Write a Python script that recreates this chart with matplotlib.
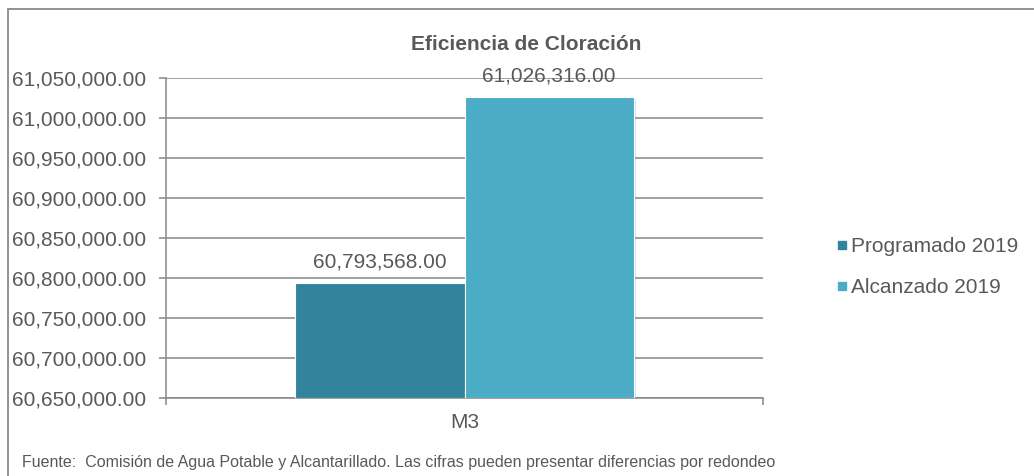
import matplotlib
matplotlib.use("Agg")
import matplotlib.pyplot as plt
from matplotlib.lines import Line2D
from matplotlib.patches import Rectangle
from matplotlib import patheffects as pe
from matplotlib import font_manager as fm
import numpy as np

categories = ["M3"]
series_names = ["Programado 2019", "Alcanzado 2019"]
values = [60793568.00, 61026316.00]
colors = ["#31849B", "#4BACC6"]
y_ticks = [60650000, 60700000, 60750000, 60800000, 60850000,
           60900000, 60950000, 61000000, 61050000]
title = "Eficiencia de Cloración"
footer = "Fuente:  Comisión de Agua Potable y Alcantarillado. Las cifras pueden presentar diferencias por redondeo"

names = {f.name for f in fm.fontManager.ttflist}
narrow = "Liberation Sans Narrow" if "Liberation Sans Narrow" in names else "Liberation Sans"
plt.rcParams['font.family'] = ['Liberation Sans', 'DejaVu Sans']

W, H = 1034, 476
fig = plt.figure(figsize=(W / 100, H / 100), dpi=100)
fig.patch.set_facecolor("white")

# outer border (top and left visible, extends past right/bottom)
fig.patches.append(Rectangle((8 / W, -0.05), 1.1, (H - 9) / H + 0.05, transform=fig.transFigure,
                             fill=False, edgecolor="#7f7f7f", linewidth=1.2))

ax = fig.add_axes([166 / W, 1 - 398 / H, (763 - 166) / W, (398 - 78) / H])
grey = "#868686"
txt = "#595959"

bw = 0.2834
offsets = [-bw / 2, bw / 2]
for i, (name, v, c) in enumerate(zip(series_names, values, colors)):
    bars = ax.bar(offsets[i], v - y_ticks[0], bottom=y_ticks[0], width=bw, color=c,
                  edgecolor="white", linewidth=0.8, zorder=3, label=name)
    for b in bars:
        b.set_path_effects([pe.SimplePatchShadow(offset=(1.5, -1.5), alpha=0.25, rho=0.9), pe.Normal()])
    ax.text(offsets[i], v + 14000, f"{v:,.2f}", ha="center", va="bottom",
            fontsize=15, color=txt, zorder=4)

ax.set_xlim(-0.5, 0.5)
ax.set_ylim(y_ticks[0], y_ticks[-1])
ax.set_yticks(y_ticks)
ax.set_yticklabels([f"{t:,.2f}" for t in y_ticks], fontsize=15, color=txt)
ax.yaxis.grid(True, color=grey, linewidth=1.1, zorder=0)
ax.set_axisbelow(True)
ax.tick_params(axis="y", length=5, width=1.1, color=grey, pad=9)

ax.set_xticks([-0.5, 0.5])
ax.set_xticklabels(["", ""])
ax.tick_params(axis="x", length=5, width=1.1, color=grey)
ax.text(0.5, -0.078, categories[0], transform=ax.transAxes, ha="center", va="center",
        fontsize=15, color=txt)

for s in ["top", "right"]:
    ax.spines[s].set_visible(False)
for s in ["left", "bottom"]:
    ax.spines[s].set_color(grey)
    ax.spines[s].set_linewidth(1.1)

fig.text(526 / W, 1 - 44 / H, title, ha="center", va="center", fontsize=15,
         fontweight="bold", color=txt)

handles = [Line2D([], [], marker="s", linestyle="none", markersize=6, color=c) for c in colors]
fig.legend(handles, series_names, loc="center left", bbox_to_anchor=(826 / W, 1 - 267 / H),
           frameon=False, fontsize=15, labelcolor=txt, handlelength=0.5, handletextpad=0.2,
           labelspacing=1.05, borderpad=0)

fig.text(22 / W, 1 - 463 / H, footer, ha="left", va="center", fontsize=11.5,
         color=txt, family=[narrow, 'DejaVu Sans'])

fig.savefig("out.png", dpi=100, facecolor="white")
